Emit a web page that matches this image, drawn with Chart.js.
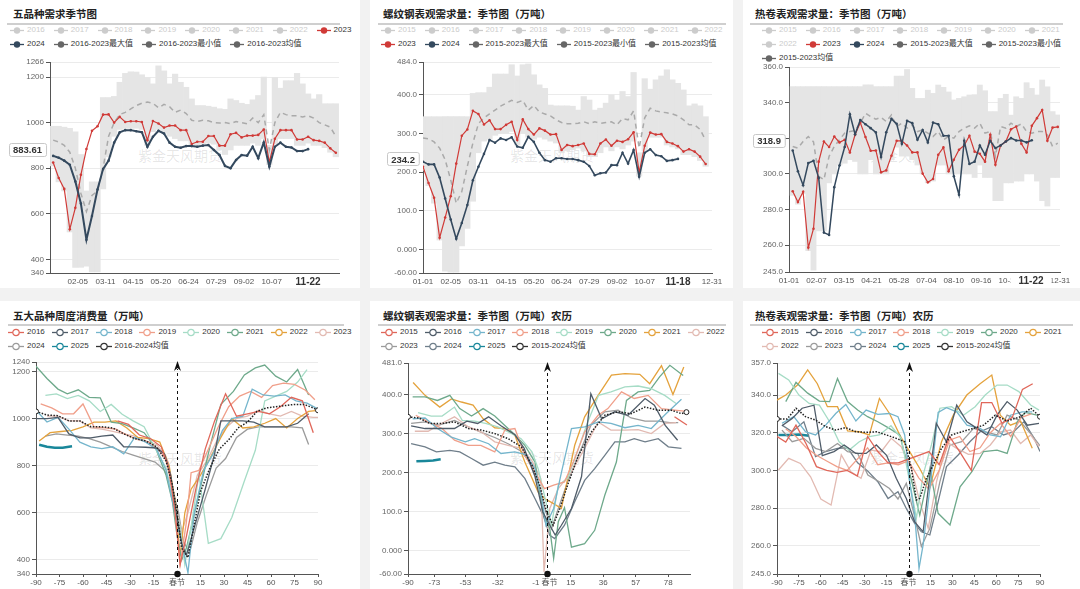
<!DOCTYPE html>
<html>
<head>
<meta charset="utf-8">
<script src="https://cdn.jsdelivr.net/npm/chart.js@4.4.1/dist/chart.umd.min.js"></script>
<style>
  body { margin: 0; width: 1080px; height: 589px; background: #f2f2f2; position: relative; overflow: hidden;
         font-family: "Liberation Sans", Arial, "Noto Sans CJK SC", sans-serif; }
  .card { position: absolute; background: #fff; }
  .title { position: absolute; font: bold 10.5px/12px "Noto Sans CJK SC", sans-serif; color: #222; white-space: nowrap; }
  .rule { position: absolute; height: 1.5px; background: #cfcfcf; }
  .lg { position: absolute; display: flex; font-size: 8px; line-height: 10px; color: #333; white-space: nowrap; }
  .lg span { display: flex; align-items: center; gap: 3px; }
  .lg .off { color: #ccc; }
  .wm { position: absolute; font: 14px/16px "Noto Sans CJK SC", sans-serif; color: rgba(0,0,0,0.11); white-space: nowrap; }
  canvas { position: absolute; }
</style>
</head>
<body>
<script>
// ---------- data: seasonal charts (weekly points, x = day of year) ----------
const p1Y2023 = [825,757,709,532,626,771,884,964,984,1035,1036,1000,1025,1003,1006,1006,1003,923,1007,996,978,987,987,967,967,906,916,916,941,941,899,899,949,955,935,943,943,946,970,825,929,967,967,967,926,926,938,923,920,912,887,868];
const p1Y2024 = [854,846,833,815,742,645,486,590,706,796,833,912,957,967,967,962,958,894,938,964,952,912,894,890,897,897,894,899,902,880,858,810,800,836,858,855,894,844,913,807,894,912,894,891,875,875,883.61];
const p1Avg = [923,915,900,870,800,690,610,680,700,800,940,1000,1035,1045,1060,1075,1085,1090,1085,1065,1080,1070,1045,1055,1040,1010,1005,1010,1008,1000,998,1000,995,1005,1000,995,1020,1000,1035,880,1000,1045,1035,1030,1030,1025,1030,1020,1000,990,980,940];
const p1Max = [984,984,980,975,960,860,700,740,740,1110,1110,1115,1177,1216,1223,1222,1210,1198,1170,1249,1227,1170,1213,1177,1155,1104,1075,1075,1072,1068,1061,1058,1104,1097,1085,1080,1100,1119,1200,900,1198,1151,1184,1184,1216,1170,1126,1104,1123,1083,1083,1083];
const p1Min = [810,740,700,520,365,365,370,345,345,709,850,940,970,975,975,975,970,900,960,970,955,940,930,920,920,900,900,905,910,905,880,860,880,900,900,900,910,900,930,815,905,930,930,930,900,900,910,900,900,890,870,850];

const p2Y2023 = [214,172,134,31,83,138,222,294,310,358,350,323,334,311,311,322,330,283,336,311,297,313,307,297,298,257,270,267,270,274,247,246,274,284,268,281,278,285,303,199,268,302,297,298,278,274,267,253,259,253,240,221];
const p2Y2024 = [227,220,220,186,132,78,28,69,115,179,214,247,283,276,287,283,290,266,263,291,278,250,231,227,236,236,234,234,231,227,216,192,197,199,218,218,250,222,257,188,250,259,244,241,229,231,234.2];
const p2Avg = [288,286,278,262,232,180,120,150,215,275,325,340,350,360,370,378,385,380,385,360,372,355,350,345,335,328,325,325,326,330,325,330,326,328,330,322,338,335,358,262,340,365,358,355,353,350,345,335,322,322,310,282];
const p2Max = [343,343,343,343,343,343,343,343,343,403,405,405,419,453,453,453,477,448,477,479,451,425,416,373,371,371,371,370,360,395,386,360,365,378,399,386,408,395,457,250,441,414,438,448,464,438,429,412,371,376,371,343];
const p2Min = [205,165,120,25,-55,-58,-58,10,55,125,250,280,285,295,300,300,305,270,300,290,285,290,285,280,275,250,255,258,262,255,240,240,250,265,255,265,260,270,280,190,255,290,290,290,270,265,260,245,245,240,230,215];

const p3Y2023 = [290.3,284.2,290.0,258.7,269.3,306.9,318.2,315.1,321.0,317.7,319.2,312.1,322.0,328.8,320.7,313.0,313.2,300.9,302.0,310.2,318.6,318.6,316.0,312.1,312.1,300.2,295.3,297.2,310.8,314.9,301.5,308.0,313.6,316.0,321.4,312.5,311.3,306.9,322.0,305.2,316.0,318.2,325.1,326.6,316.9,312.1,327.0,331.3,335.9,318.6,326.0,326.4];
const p3Y2024 = [313.2,301.5,293.7,306.1,307.4,297.8,267.1,265.8,292.6,304.7,315.1,333.5,322.3,330.3,327.9,325.7,323.3,309.5,323.4,330.9,328.1,316.9,329.8,328.5,319.2,324.7,317.7,328.8,327.9,321.4,321.4,298.7,288.3,318.6,305.6,306.9,316.0,310.8,318.6,314.5,316.0,318.2,320.1,318.8,318.8,317.7,318.9];
const p3Avg = [315.4,314.5,318.2,321.0,318,298.7,296.8,309.9,315.4,319.2,322.9,323.8,324.4,328.5,334.0,332.2,330.7,331.8,329.4,333.1,326.6,328.5,325.7,327.5,323.8,324.7,322.9,321.0,323.8,319.2,321.0,320.1,323.8,325.7,327.0,325.7,328.5,322.9,323.8,309.9,326.6,325.7,328.5,326.6,328.1,323.8,322.9,323.8,323.8,322.0,315.4,317.3];
const p3Max = [349,349,349,349,349,349,349,349,349,349,349,349,349,349,350,350,349,349,349,349,354.9,354.9,358.6,348,342.4,342.4,347,345.2,349.9,348.6,346,341.5,342.4,343.3,344.3,344.5,349.9,346.7,335,335,342.4,344.7,333,343.3,342.4,351.2,348,344.3,352.7,348.9,335,333.1];
const p3Min = [288,283,289,257,246,268,268,295,300,305,306,308,307,300,300,308,300,300,300,308,315,310,310,308,305,300,295,296,305,305,300,300,300,300,300,298,305,298,298,285,285,295,295,296,296,300,300,296,285,282,298,298];

// x tick positions (day of year) and labels
const p1XTicks = [35,70,105,140,175,210,245,280,315];
const p1XLabels = ['02-05','03-11','04-15','05-20','06-24','07-29','09-02','10-07','11-11'];
const p2XTicks = [0,35,70,105,140,175,210,245,280,315,365];
const p2XLabels = ['01-01','02-05','03-11','04-15','05-20','06-24','07-29','09-02','10-07','11-11','12-31'];
const p3XTicks = [0,37,74,111,148,185,222,259,296,365];
const p3XLabels = ['01-01','02-07','03-15','04-21','05-28','07-04','08-10','09-16','10-23','12-31'];

const p1YTicks = [340,400,600,800,1000,1200,1266];
const p1YLabels = ['340','400','600','800','1000','1200','1266'];
const p2YTicks = [-60,0,100,200,300,400,484];
const p2YLabels = ['-60.00','0.000','100.0','200.0','300.0','400.0','484.0'];
const p3YTicks = [245,260,280,300,320,340,360];
const p3YLabels = ['245.0','260.0','280.0','300.0','320.0','340.0','360.0'];

// ---------- data: lunar-calendar charts ([day from Spring Festival, value]) ----------
const bl2016 = [[-38,990],[-31,975],[-24,930],[-17,915],[-10,880],[-5,780],[-1,590],[2,380],[6,500],[12,700],[18,870],[24,990],[31,1105],[38,1010],[45,1020],[52,1030],[59,1020],[66,1050],[73,1090],[80,1075],[87,940]];
const bl2017 = [[-90,1000],[-83,1000],[-76,1005],[-69,935],[-62,918],[-55,918],[-48,925],[-41,930],[-34,880],[-27,880],[-20,878],[-13,875],[-8,850],[-4,760],[-1,620],[3,470],[6,420],[12,560],[18,700],[24,850],[28,990],[35,990],[42,990],[49,985],[56,965],[63,965],[70,965],[77,980],[84,1020]];
const bl2018 = [[-90,1035],[-83,985],[-76,1005],[-69,955],[-62,900],[-55,880],[-48,872],[-41,880],[-34,850],[-27,920],[-20,900],[-13,870],[-7,780],[-2,620],[3,470],[7,345],[11,600],[17,780],[23,850],[29,950],[35,1000],[42,1010],[48,1125],[55,1100],[62,1095],[69,1100],[76,1075],[83,1065],[90,1040]];
const bl2019 = [[-87,1062],[-80,1045],[-73,1020],[-66,1020],[-60,1062],[-53,965],[-46,960],[-39,955],[-32,930],[-25,910],[-18,900],[-12,870],[-6,820],[-2,650],[2,380],[6,560],[9,770],[14,780],[20,870],[26,960],[33,1050],[40,1095],[47,1115],[54,1090],[61,1140],[68,1150],[75,1145],[82,1120],[88,1080]];
const bl2020 = [[-84,1098],[-77,1105],[-70,1085],[-63,1098],[-56,1075],[-49,1030],[-42,1060],[-35,1018],[-28,990],[-21,965],[-14,875],[-7,790],[-2,640],[2,540],[5,380],[9,540],[14,762],[20,470],[28,490],[35,580],[43,735],[50,865],[56,1075],[63,1095],[70,1115],[77,1155],[83,1208]];
const bl2021 = [[-90,1222],[-83,1170],[-76,1125],[-70,1105],[-63,1122],[-56,1090],[-49,1088],[-42,985],[-35,978],[-28,960],[-21,940],[-14,880],[-7,760],[-3,650],[0,505],[3,400],[6,450],[13,650],[21,880],[28,1060],[36,1115],[43,1185],[50,1215],[56,1227],[63,1180],[70,1155],[77,1208],[84,1100]];
const bl2022 = [[-88,905],[-81,940],[-74,945],[-67,950],[-60,965],[-53,985],[-46,985],[-39,990],[-32,960],[-25,920],[-18,915],[-11,900],[-5,800],[-1,640],[2,415],[5,600],[9,700],[15,760],[21,830],[28,920],[35,1000],[42,960],[49,965],[56,980],[63,1000],[70,960],[77,1000],[84,1030],[90,1035]];
const bl2023 = [[-83,1010],[-76,1010],[-69,990],[-62,990],[-55,960],[-48,955],[-41,945],[-34,935],[-27,925],[-20,905],[-13,890],[-7,840],[-2,650],[3,520],[7,600],[13,760],[19,820],[25,900],[31,960],[38,1000],[45,1010],[52,1035],[59,1020],[66,1010],[73,1030],[80,1010],[87,1005],[90,1005]];
const bl2024 = [[-84,925],[-77,935],[-70,930],[-63,925],[-56,915],[-49,900],[-42,880],[-35,860],[-28,845],[-21,830],[-14,815],[-8,780],[-3,710],[1,600],[4,480],[8,430],[13,560],[19,680],[25,790],[31,830],[38,920],[45,955],[52,965],[59,965],[66,965],[73,965],[80,960],[84,890]];
const bl2025 = [[-88,889],[-83,880],[-78,876],[-73,876],[-67,882]];
const blAvg = [[-90,1030],[-83,1015],[-76,1012],[-69,990],[-62,990],[-55,965],[-48,965],[-41,960],[-34,935],[-27,915],[-20,905],[-13,880],[-7,820],[-3,720],[0,600],[3,450],[7,410],[11,550],[15,690],[21,790],[27,870],[33,910],[39,960],[45,985],[51,1030],[57,1045],[63,1050],[69,1055],[75,1060],[81,1060],[87,1045],[90,1035]];

const bm2015 = [[82,343],[90,322]];
const bm2016 = [[-88,320],[-79,313],[-70,313],[-60,313],[-52,332],[-45,326],[-38,343],[-30,320],[-21,297],[-15,262],[-8,189],[-3,99],[1.5,65],[5,40],[9,65],[15.5,108],[22,190],[28,402],[35,338],[43.5,356],[52,347],[63,390],[69,373],[76,321],[84,283]];
const bm2017 = [[-87,338],[-79,340],[-71,313],[-62,291],[-53,279],[-47,287],[-38,274],[-30,249],[-21,253],[-14,246],[-8,210],[-4,142],[-1,65],[4,108],[9,200],[15.5,313],[24,317],[33,330],[41,326],[50,315],[58.5,321],[67,313],[76,349],[86.5,388]];
const bm2018 = [[-85,347],[-77,330],[-68,313],[-60,283],[-51,270],[-43,270],[-34,253],[-27.5,309],[-21,313],[-14.6,244],[-8,202],[-2,159],[4,168],[11,176],[17.6,236],[24,304],[32.7,347],[39,364],[47.8,407],[56,390],[65,398],[73.6,364],[82,360],[89.7,357]];
const bm2019 = [[-83.5,354],[-75,345],[-68,345],[-60,368],[-55,334],[-47,332],[-40,326],[-32,317],[-23,300],[-17,287],[-10,253],[-6,210],[-2,142],[2.6,65],[7,168],[13,185],[20,262],[26,330],[33,398],[41,407],[50,420],[58.5,422],[67,415],[75.7,398],[83,377]];
const bm2020 = [[-87,394],[-79,394],[-71,385],[-63,398],[-56.6,364],[-49,345],[-41.5,364],[-34,345],[-27.5,321],[-21,297],[-14.6,270],[-8,227],[-3,99],[1.5,56],[4,-20],[7,74],[11,110],[15.5,9],[24,18],[30.5,52],[37,142],[44.5,227],[51,385],[58.5,407],[66,411],[72.5,446],[79,475],[87.6,449]];
const bm2021 = [[-86.7,431],[-79,398],[-69.5,368],[-62,389],[-55.5,381],[-48,373],[-41.5,338],[-34,315],[-27.5,313],[-21,296],[-14.6,227],[-6,150],[-1.7,133],[3.7,121],[9,108],[17.6,270],[24,343],[32.7,398],[41.3,450],[50,454],[59.6,452],[66,428],[73.6,474],[81,400],[88,471]];
const bm2022 = [[-85.6,306],[-77,306],[-68.4,326],[-60,343],[-51,317],[-42.6,304],[-34,279],[-25.4,270],[-16.8,262],[-10,230],[-4.3,185],[-2.2,-55],[1.5,108],[7,159],[15.5,202],[24,262],[32.7,330],[41,309],[50,309],[58.5,310],[67,300],[75.7,326],[83,328]];
const bm2023 = [[-88,326],[-79,330],[-70,322],[-60,334],[-51,317],[-42.6,303],[-34,290],[-25.4,274],[-17,255],[-10,219],[-5,159],[-1.7,108],[2.6,56],[7,108],[13,176],[20,244],[28,321],[37,356],[45.6,360],[54,340],[63,332],[71.5,332],[79,328],[84.4,328]];
const bm2024 = [[-88,274],[-79,266],[-71.7,253],[-63,257],[-56.6,253],[-49,236],[-41.5,219],[-34,227],[-27.5,219],[-21,215],[-14.6,185],[-8,133],[-2.8,91],[1.5,39],[4.7,31],[11,65],[17.6,125],[24,180],[30.5,210],[37,244],[43.5,279],[50,279],[56,287],[63,279],[71.5,287],[78,266],[86.5,262]];
const bm2025 = [[-84.6,229],[-79,230],[-73.8,231],[-68.9,234]];
const bmAvg = [[-90,343],[-83,340],[-76,326],[-68.4,326],[-60,330],[-51,313],[-42.6,309],[-34,300],[-25.4,287],[-16.8,266],[-10,219],[-5,167],[-0.6,99],[3.7,65],[8,108],[13,168],[20,244],[28.4,304],[37,347],[45.6,356],[54,351],[63,368],[71.5,360],[80,360],[86.5,351],[89.7,355]];

const br2015 = [[-90,318],[-84,315],[-77,324],[-70,314],[-63,302],[-56,300],[-49,299],[-42,300],[-35,297],[-28,318],[-21,310],[-14,304],[-7,304],[0,306],[7,308],[14,310],[21,303],[28,318],[35,310],[43,300],[50,336],[57,336],[64,325],[71,328],[78,343],[85,346]];
const br2016 = [[-86.6,323.7],[-79.6,327.6],[-72.8,333],[-64.7,334.6],[-59,307.8],[-51,310],[-44,313.5],[-36,309],[-29,309],[-22,313.5],[-15,308],[-8.4,295.8],[-1.5,285.1],[4.2,272.7],[10,267.4],[14.6,297.3],[19,325],[26,315.2],[33,334.6],[40,325.8],[47,322.3],[53.7,318.8],[60.6,329.3],[67.5,336.5],[74.4,332],[81.3,324],[89.3,325]];
const br2017 = [[-86.6,325],[-78.5,328.5],[-70.5,320.5],[-63.6,318.8],[-56.7,324],[-49.8,330.2],[-42.9,335],[-36,326.2],[-29,332],[-21,329.7],[-13,330.2],[-7.2,328.5],[-2.6,318.8],[0.8,294],[4.2,276.5],[7.2,248],[10,260.5],[14.6,290.4],[20.3,330.8],[26,333.3],[33,331.1],[40,324],[49,322.3],[56,318.8],[63,317.9],[69.8,329.3],[77.8,331.1],[84.7,331.1]];
const br2018 = [[-84,322],[-77,318],[-70,312],[-63,308],[-56,305],[-49,302],[-42,300],[-35,306],[-28,312],[-21,303],[-14,304],[-7,303],[0,305],[7,296],[14,290],[21,300],[28,316],[35,318],[42,310],[49,312],[56,320],[63,325],[70,318],[77,328],[84,330]];
const br2019 = [[-89,351.5],[-82,348],[-75,340],[-68,335.5],[-61,334.6],[-54,325.8],[-47.5,315.2],[-40.6,310.8],[-33.7,315.2],[-26.8,317.9],[-20,318.8],[-12,323.7],[-5,317],[0.8,294],[5.4,274.7],[10,297.6],[15.7,313.5],[21.5,333],[29.5,333.8],[37.6,329.3],[45.6,333.8],[52.5,340],[60.6,345.3],[67.5,345.3],[75.5,341.8],[83.6,334.7],[89.3,332]];
const br2020 = [[-84,336.5],[-77,346.7],[-69,341],[-61,336.8],[-54,336.5],[-48.6,348.8],[-41.7,336.5],[-34.8,332],[-28,328.5],[-21,325.8],[-14,322.7],[-6,318.8],[2,294.9],[7.7,276.3],[14.6,301],[20.3,277.2],[28.4,271],[35.3,291.3],[43.4,299.3],[51.4,310],[60.6,310.8],[67.5,309],[74.4,325.8],[80,330.8],[88,329.3]];
const br2021 = [[-90,337.3],[-84,340],[-76,345.3],[-69,353.3],[-62.4,346],[-55.5,333.8],[-48.6,333.8],[-41.7,321],[-33.7,320.5],[-26.8,318.8],[-19.9,338.2],[-13,330.2],[-6,318.8],[0.8,310],[7.7,301],[14.6,290.8],[22.6,315.2],[30.7,329.3],[39.9,340],[49,346],[57,350.6],[62.8,329.3],[69.8,324],[76.7,326.2],[84.7,311.7]];
const br2022 = [[-89,300.2],[-82,306.4],[-74,303.7],[-67,296.6],[-60,284.8],[-53,281.6],[-46,308.2],[-39.4,299.3],[-32.5,295.8],[-25.6,310.8],[-18.7,309.9],[-11.8,317],[-5,312.6],[2,301],[7.7,283.4],[13.5,269.2],[19.2,294],[26,315.2],[33,311.7],[41,308.5],[49,309],[56,313.5],[63,320.5],[69.8,321.4],[76.7,314.3],[83.6,318.8],[89.3,312.6]];
const br2023 = [[-86.6,321.4],[-79.6,315.2],[-71.6,317],[-63.6,311.7],[-56.7,310],[-48.6,314.3],[-41.7,310],[-34.8,309],[-27.8,297.5],[-20,294],[-13,290.4],[-7.2,284.8],[-1.5,293.1],[4.2,275.6],[8.8,259.6],[14.6,269.2],[21.5,294],[28.4,313.5],[36.4,315.2],[44.5,322.3],[52.5,320.5],[60.6,318.8],[67.5,329.3],[75.5,326.7],[83.6,319.6],[90,313.1]];
const br2024 = [[-86.6,324],[-79.6,320.5],[-71.6,325.8],[-63.6,307.3],[-56.7,310],[-48.6,311.7],[-41.7,312],[-34.8,304],[-27.8,299.6],[-21,294],[-14,285.1],[-7.2,288.7],[-1.5,279.8],[4.2,271.9],[8.8,267.4],[14.6,265.7],[20.3,283.4],[26,302],[34,308.2],[42,315.2],[49,320.5],[57,323.2],[65,318.8],[72,320.5],[79,325.8],[86,317],[90,310]];
const br2025 = [[-89,318.8],[-82,318.8],[-75,319.1],[-68,318.4]];
const brAvg = [[-90,327.3],[-83,327.3],[-77,333],[-70.5,328.5],[-63.6,326.7],[-56.7,323.2],[-49.8,321.4],[-43,322.7],[-36,320.5],[-29,320.2],[-22,320.5],[-15,318.8],[-8.4,317],[-2.6,315.2],[2,301],[5.4,284.3],[7.7,285.1],[12.3,295.8],[16.9,302.8],[22.6,311.7],[29.5,318.8],[36.4,320.5],[44.5,322.3],[51.4,324],[59.4,329.3],[67.5,326.2],[76.7,328.5],[83.6,333],[90,328.5]];

const lunarTicks = [-90,-75,-60,-45,-30,-15,0,15,30,45,60,75,90];
const lunarLabels = ['-90','-75','-60','-45','-30','-15','春节','15','30','45','60','75','90'];
const bmXTicks = [-90,-73,-53,-32,-1,0,15,36,57,78];
const bmXLabels = ['-90','-73','-53','-32','-1\u2003\u2003\u2002','\u2002春节','15','36','57','78'];
const blYTicks = [340,400,600,800,1000,1200,1240];
const blYLabels = ['340','400','600','800','1000','1200','1240'];
const bmYTicks = [-60,0,100,200,300,400,481];
const bmYLabels = ['-60.00','0.000','100.0','200.0','300.0','400.0','481.0'];
const brYTicks = [245,260,280,300,320,340,357];
const brYLabels = ['245.0','260.0','280.0','300.0','320.0','340.0','357.0'];

// ---------- styling ----------
const RED = '#d03a37', NAVY = '#34495e', GREYMARK = '#666', OFF = '#ccc';
const palette = ['#e0675a','#4f5c69','#74b5cc','#f09f8a','#a6dcc6','#6ea98b','#e4a23c','#e2bab2','#9b9b9b','#6f7e8a'];
const TEAL = '#19879a';

Chart.defaults.font.family = '"Liberation Sans", Arial, "Noto Sans CJK SC", sans-serif';
Chart.defaults.font.size = 8;
Chart.defaults.animation = false;

const weekDays = (first, n) => Array.from({length: n}, (_, i) => first + 7 * i);
const toPts = (xs, ys) => ys.map((v, i) => ({x: xs[i], y: v}));
const toBand = (xs, lo, hi) => hi.map((v, i) => ({x: xs[i], y: [lo[i], v]}));
const pairs = arr => arr.map(p => ({x: p[0], y: p[1]}));

// ---------- page furniture ----------
function el(cls, css, html) {
  const d = document.createElement('div');
  d.className = cls;
  Object.assign(d.style, css);
  if (html) d.innerHTML = html;
  document.body.appendChild(d);
  return d;
}
function card(x, y, w, h) { el('card', {left: x + 'px', top: y + 'px', width: w + 'px', height: h + 'px'}); }
function title(x, cy, text) { el('title', {left: x + 'px', top: (cy - 6) + 'px'}, text); }
function rule(x0, x1, y) { el('rule', {left: x0 + 'px', top: (y - 0.75) + 'px', width: (x1 - x0) + 'px'}); }
function watermark(x, cy) { el('wm', {left: x + 'px', top: (cy - 8) + 'px'}, '紫金天风期货'); }
function legendRow(x, cy, items, hollow) {
  const gap = hollow ? 7 : 9, iw = hollow ? 16 : 14;
  const html = items.map(([name, color, off]) => {
    const c = off ? OFF : color;
    const dot = hollow
      ? `<circle cx="${iw / 2}" cy="4.5" r="3.2" fill="#fff" stroke="${c}" stroke-width="1.2"/>`
      : `<circle cx="${iw / 2}" cy="4.5" r="3.2" fill="${c}"/>`;
    return `<span class="${off ? 'off' : ''}"><svg width="${iw}" height="9"><line x1="0" y1="4.5" x2="${iw}" y2="4.5" stroke="${c}" stroke-width="1.3"/>${dot}</svg>${name}</span>`;
  }).join('');
  return el('lg', {left: x + 'px', top: (cy - 5) + 'px', gap: gap + 'px'}, html);
}

// ---------- plugin: pointer labels, Spring Festival marker ----------
const extras = {
  id: 'extras',
  afterDraw(chart, args, o) {
    const {ctx, chartArea: a} = chart;
    const xs = chart.scales.x, ys = chart.scales.y;
    ctx.save();
    if (o.spring) {
      const px = Math.round(xs.getPixelForValue(0)) + 0.5;
      ctx.strokeStyle = '#111';
      ctx.fillStyle = '#111';
      ctx.lineWidth = 1;
      ctx.setLineDash([3, 3]);
      ctx.beginPath(); ctx.moveTo(px, a.bottom); ctx.lineTo(px, a.top + 7); ctx.stroke();
      ctx.setLineDash([]);
      ctx.beginPath();
      ctx.moveTo(px, a.top - 1); ctx.lineTo(px - 3.5, a.top + 9); ctx.lineTo(px, a.top + 6); ctx.lineTo(px + 3.5, a.top + 9);
      ctx.closePath(); ctx.fill();
      ctx.beginPath(); ctx.arc(px, a.bottom, 3.2, 0, Math.PI * 2); ctx.fill();
    }
    if (o.yTag) {
      const py = ys.getPixelForValue(o.yTag.value);
      ctx.font = 'bold 9.5px "Liberation Sans", Arial';
      const w = ctx.measureText(o.yTag.text).width + 8, h = 13;
      const rx = a.left - 4 - w;
      ctx.fillStyle = '#fff'; ctx.strokeStyle = '#c8c8c8'; ctx.lineWidth = 1;
      ctx.beginPath(); ctx.roundRect(Math.round(rx) + 0.5, Math.round(py - h / 2) + 0.5, w, h, 2); ctx.fill(); ctx.stroke();
      ctx.fillStyle = '#333'; ctx.textBaseline = 'middle'; ctx.textAlign = 'left';
      ctx.fillText(o.yTag.text, rx + 4, py + 1);
    }
    if (o.xTag) {
      const px = xs.getPixelForValue(o.xTag.value);
      ctx.font = 'bold 10px "Liberation Sans", Arial';
      const w = ctx.measureText(o.xTag.text).width + 16;
      ctx.fillStyle = '#fff';
      ctx.fillRect(px - w / 2, a.bottom + 2, w, 14);
      ctx.fillStyle = '#333'; ctx.textBaseline = 'middle'; ctx.textAlign = 'center';
      ctx.fillText(o.xTag.text, px, a.bottom + 9.5);
    }
    ctx.restore();
  }
};

// ---------- chart builders ----------
function mount(rect, plot) {
  const c = document.createElement('canvas');
  c.width = rect[2]; c.height = rect[3];
  c.style.left = rect[0] + 'px'; c.style.top = rect[1] + 'px';
  c.style.width = rect[2] + 'px'; c.style.height = rect[3] + 'px';
  document.body.appendChild(c);
  return {
    canvas: c,
    padding: {left: 0, top: plot[2] - rect[1], right: rect[0] + rect[2] - plot[1], bottom: 0},
    yW: plot[0] - rect[0],
    xH: rect[1] + rect[3] - plot[3]
  };
}

function yAxis(min, max, ticks, labels, w) {
  return {
    min, max,
    afterBuildTicks: s => { s.ticks = ticks.map(v => ({value: v})); },
    afterFit: s => { s.width = w; },
    ticks: {callback: (v, i) => labels[i], color: '#666', padding: 2, autoSkip: false},
    grid: {color: '#ebebeb', tickColor: '#555', tickLength: 4},
    border: {color: '#555'}
  };
}

function xAxis(min, max, ticks, labels, h, withMarks) {
  return {
    type: 'linear', min, max, offset: false,
    afterBuildTicks: s => { s.ticks = ticks.map(v => ({value: v})); },
    afterFit: s => { s.height = h; },
    ticks: {callback: (v, i) => labels[i], autoSkip: false, maxRotation: 0, color: '#555', padding: withMarks ? 1 : 4},
    grid: withMarks
      ? {drawOnChartArea: false, drawTicks: true, tickLength: 3, tickColor: '#555'}
      : {display: false, drawTicks: false},
    border: {color: '#555'}
  };
}

function seasonal(rect, plot, s) {
  const m = mount(rect, plot);
  new Chart(m.canvas, {
    type: 'bar',
    data: {
      datasets: [
        {type: 'bar', data: toBand(s.days, s.min, s.max), backgroundColor: '#e5e5e5', borderWidth: 0,
         barPercentage: 1, categoryPercentage: 1, order: 3},
        {type: 'line', data: toPts(s.days, s.avg), borderColor: '#aaa', borderWidth: 1.5, borderDash: [5, 4],
         pointRadius: 0, order: 2},
        {type: 'line', data: toPts(s.days, s.y2023), borderColor: RED, borderWidth: 1.2,
         pointRadius: 1.3, pointBackgroundColor: RED, pointBorderWidth: 0, order: 1},
        {type: 'line', data: toPts(s.days, s.y2024), borderColor: NAVY, borderWidth: s.navyW,
         pointRadius: 1.3, pointBackgroundColor: NAVY, pointBorderWidth: 0, order: 0}
      ]
    },
    options: {
      responsive: false,
      maintainAspectRatio: false,
      layout: {padding: m.padding},
      scales: {
        x: xAxis(0, 365, s.xTicks, s.xLabels, m.xH, false),
        y: yAxis(s.yMin, s.yMax, s.yTicks, s.yLabels, m.yW)
      },
      plugins: {
        legend: {display: false},
        tooltip: {enabled: false},
        extras: {yTag: s.yTag, xTag: s.xTag}
      }
    },
    plugins: [extras]
  });
}

function lunar(rect, plot, s) {
  const m = mount(rect, plot);
  const datasets = s.series.map(([d, color, w]) => ({
    type: 'line', data: pairs(d), borderColor: color, borderWidth: w || 1.3, pointRadius: 0, order: 2
  }));
  datasets.push({
    type: 'line', data: pairs(s.avg), borderColor: '#222', borderWidth: 1.5, borderDash: [1.5, 1.5],
    pointRadius: c => (c.dataIndex === 0 || c.dataIndex === s.avg.length - 1) ? 2.5 : 0,
    pointBackgroundColor: '#fff', pointBorderColor: '#222', pointBorderWidth: 1, order: 0
  });
  new Chart(m.canvas, {
    type: 'line',
    data: {datasets},
    options: {
      responsive: false,
      maintainAspectRatio: false,
      layout: {padding: m.padding},
      scales: {
        x: xAxis(-90, s.xMax, s.xTicks, s.xLabels, m.xH, true),
        y: yAxis(s.yMin, s.yMax, s.yTicks, s.yLabels, m.yW)
      },
      plugins: {
        legend: {display: false},
        tooltip: {enabled: false},
        extras: {spring: true}
      }
    },
    plugins: [extras]
  });
}

// ---------- cards ----------
card(0, 0, 360, 288); card(370, 0, 363, 288); card(743, 0, 337, 288);
card(0, 301, 360, 288); card(370, 301, 363, 288); card(743, 301, 337, 288);

// ---------- top row ----------
title(13, 14, '五品种需求季节图'); rule(7, 340, 24);
legendRow(10, 30, [['2016',0,1],['2017',0,1],['2018',0,1],['2019',0,1],['2020',0,1],['2021',0,1],['2022',0,1],['2023',RED]]);
legendRow(10, 44, [['2024',NAVY],['2016-2023最大值',GREYMARK],['2016-2023最小值',GREYMARK],['2016-2023均值',GREYMARK]]);
watermark(138, 155);

title(383, 14, '螺纹钢表观需求量：季节图（万吨）'); rule(378, 726, 24);
legendRow(381, 30, [['2015',0,1],['2016',0,1],['2017',0,1],['2018',0,1],['2019',0,1],['2020',0,1],['2021',0,1],['2022',0,1]]);
legendRow(381, 44, [['2023',RED],['2024',NAVY],['2015-2023最大值',GREYMARK],['2015-2023最小值',GREYMARK],['2015-2023均值',GREYMARK]]);
watermark(510, 155);

title(755, 14, '热卷表观需求量：季节图（万吨）'); rule(750, 1063, 24);
legendRow(762, 30, [['2015',0,1],['2016',0,1],['2017',0,1],['2018',0,1],['2019',0,1],['2020',0,1],['2021',0,1]]);
legendRow(762, 44, [['2022',0,1],['2023',RED],['2024',NAVY],['2015-2023最大值',GREYMARK],['2015-2023最小值',GREYMARK]]);
legendRow(762, 58, [['2015-2023均值',GREYMARK]]);
watermark(870, 155);

// ---------- bottom row furniture ----------
title(13, 316, '五大品种周度消费量（万吨）'); rule(8, 344, 325);
legendRow(8, 332, [['2016',palette[0]],['2017',palette[1]],['2018',palette[2]],['2019',palette[3]],['2020',palette[4]],['2021',palette[5]],['2022',palette[6]],['2023',palette[7]]], true);
legendRow(8, 346, [['2024',palette[8]],['2025',TEAL],['2016-2024均值','#333']], true);
watermark(138, 458);

title(383, 316, '螺纹钢表观需求量：季节图（万吨）农历'); rule(378, 726, 325);
legendRow(381, 332, [['2015',palette[0]],['2016',palette[1]],['2017',palette[2]],['2018',palette[3]],['2019',palette[4]],['2020',palette[5]],['2021',palette[6]],['2022',palette[7]]], true);
legendRow(381, 346, [['2023',palette[8]],['2024',palette[9]],['2025',TEAL],['2015-2024均值','#333']], true);
watermark(510, 457);

title(755, 316, '热卷表观需求量：季节图（万吨）农历'); rule(750, 1073, 325);
legendRow(762, 332, [['2015',palette[0]],['2016',palette[1]],['2017',palette[2]],['2018',palette[3]],['2019',palette[4]],['2020',palette[5]],['2021',palette[6]]], true);
legendRow(762, 346, [['2022',palette[7]],['2023',palette[8]],['2024',palette[9]],['2025',TEAL],['2015-2024均值','#333']], true);
watermark(870, 457);

// ---------- charts ----------
seasonal([0, 54, 360, 234], [50, 339, 62, 273], {
  days: weekDays(4, 52), min: p1Min, max: p1Max, avg: p1Avg, y2023: p1Y2023, y2024: p1Y2024, navyW: 2,
  xTicks: p1XTicks, xLabels: p1XLabels, yMin: 340, yMax: 1266, yTicks: p1YTicks, yLabels: p1YLabels,
  yTag: {value: 883.61, text: '883.61'}, xTag: {value: 326, text: '11-22'}
});
seasonal([370, 54, 363, 234], [423, 712, 62, 273], {
  days: weekDays(0, 52), min: p2Min, max: p2Max, avg: p2Avg, y2023: p2Y2023, y2024: p2Y2024, navyW: 1.6,
  xTicks: p2XTicks, xLabels: p2XLabels, yMin: -60, yMax: 484, yTicks: p2YTicks, yLabels: p2YLabels,
  yTag: {value: 234.2, text: '234.2'}, xTag: {value: 322, text: '11-18'}
});
seasonal([743, 58, 337, 230], [789, 1060, 67, 272], {
  days: weekDays(5, 52), min: p3Min, max: p3Max, avg: p3Avg, y2023: p3Y2023, y2024: p3Y2024, navyW: 1.5,
  xTicks: p3XTicks, xLabels: p3XLabels, yMin: 245, yMax: 360, yTicks: p3YTicks, yLabels: p3YLabels,
  yTag: {value: 318.9, text: '318.9'}, xTag: {value: 326, text: '11-22'}
});

lunar([0, 354, 360, 235], [36, 318, 362, 574], {
  series: [[bl2016, palette[0]], [bl2017, palette[1]], [bl2018, palette[2]], [bl2019, palette[3]], [bl2020, palette[4]],
           [bl2021, palette[5]], [bl2022, palette[6]], [bl2023, palette[7]], [bl2024, palette[8]], [bl2025, TEAL, 2.5]],
  avg: blAvg, xMax: 90, xTicks: lunarTicks, xLabels: lunarLabels,
  yMin: 340, yMax: 1240, yTicks: blYTicks, yLabels: blYLabels
});
lunar([370, 354, 363, 235], [408, 690, 363, 574], {
  series: [[bm2015, palette[0]], [bm2016, palette[1]], [bm2017, palette[2]], [bm2018, palette[3]], [bm2019, palette[4]],
           [bm2020, palette[5]], [bm2021, palette[6]], [bm2022, palette[7]], [bm2023, palette[8]], [bm2024, palette[9]], [bm2025, TEAL, 2.5]],
  avg: bmAvg, xMax: 92, xTicks: bmXTicks, xLabels: bmXLabels,
  yMin: -60, yMax: 481, yTicks: bmYTicks, yLabels: bmYLabels
});
lunar([743, 354, 337, 235], [777, 1040, 363, 574], {
  series: [[br2015, palette[0]], [br2016, palette[1]], [br2017, palette[2]], [br2018, palette[3]], [br2019, palette[4]],
           [br2020, palette[5]], [br2021, palette[6]], [br2022, palette[7]], [br2023, palette[8]], [br2024, palette[9]], [br2025, TEAL, 2.5]],
  avg: brAvg, xMax: 90, xTicks: lunarTicks, xLabels: lunarLabels,
  yMin: 245, yMax: 357, yTicks: brYTicks, yLabels: brYLabels
});
</script>
</body>
</html>
